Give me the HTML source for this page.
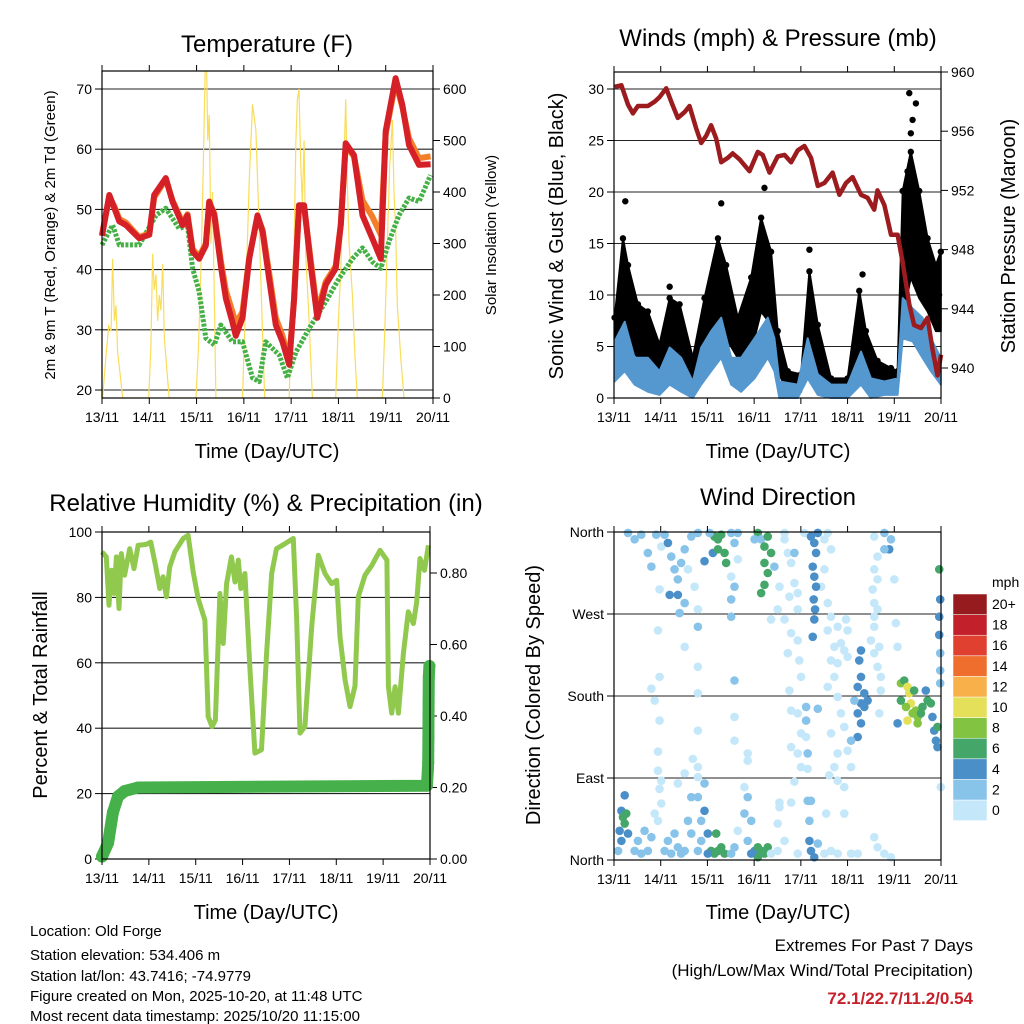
<!DOCTYPE html>
<html><head><meta charset="utf-8">
<style>
html,body{margin:0;padding:0;background:#fff;}
svg{display:block;font-family:"Liberation Sans",sans-serif;}
</style></head>
<body>
<svg id="fig" width="1024" height="1024" viewBox="0 0 1024 1024" xmlns="http://www.w3.org/2000/svg">
<rect width="1024" height="1024" fill="#fff"/>
<g id="g1"></g>
<g id="g2"></g>
<g id="g3"></g>
<g id="g4"></g>
<text x="267" y="52" font-size="24" text-anchor="middle">Temperature (F)</text>
<text x="778" y="46" font-size="24" text-anchor="middle">Winds (mph) &amp; Pressure (mb)</text>
<text x="266" y="511" font-size="24" text-anchor="middle">Relative Humidity (%) &amp; Precipitation (in)</text>
<text x="778" y="505" font-size="24" text-anchor="middle">Wind Direction</text>
<text x="267" y="458" font-size="20" text-anchor="middle">Time (Day/UTC)</text>
<text x="778" y="458" font-size="20" text-anchor="middle">Time (Day/UTC)</text>
<text x="266" y="919" font-size="20" text-anchor="middle">Time (Day/UTC)</text>
<text x="778" y="919" font-size="20" text-anchor="middle">Time (Day/UTC)</text>
<text transform="translate(55,235) rotate(-90)" font-size="15" text-anchor="middle">2m &amp; 9m T (Red, Orange) &amp; 2m Td (Green)</text>
<text transform="translate(496,235) rotate(-90)" font-size="15" text-anchor="middle">Solar Insolation (Yellow)</text>
<text transform="translate(563,236) rotate(-90)" font-size="20" text-anchor="middle">Sonic Wind &amp; Gust (Blue, Black)</text>
<text transform="translate(1015,236) rotate(-90)" font-size="20" text-anchor="middle">Station Pressure (Maroon)</text>
<text transform="translate(47,695) rotate(-90)" font-size="20" text-anchor="middle">Percent &amp; Total Rainfall</text>
<text transform="translate(540,695) rotate(-90)" font-size="20" text-anchor="middle">Direction (Colored By Speed)</text>
<g font-size="15">
<text x="30" y="936">Location: Old Forge</text>
<text x="30" y="960">Station elevation: 534.406 m</text>
<text x="30" y="981">Station lat/lon: 43.7416; -74.9779</text>
<text x="30" y="1001">Figure created on Mon, 2025-10-20, at 11:48 UTC</text>
<text x="30" y="1021">Most recent data timestamp: 2025/10/20 11:15:00</text>
</g>
<g text-anchor="end">
<text x="973" y="951" font-size="17">Extremes For Past 7 Days</text>
<text x="973" y="976" font-size="17">(High/Low/Max Wind/Total Precipitation)</text>
<text x="973" y="1004" font-size="17" font-weight="bold" fill="#c8202a">72.1/22.7/11.2/0.54</text>
</g>
<g id="cbar"></g>
<text x="992" y="587" font-size="14">mph</text>
</svg>
<script>
// ---------- data ----------
const dayLabels = ["13/11","14/11","15/11","16/11","17/11","18/11","19/11","20/11"];
const tempTicks = [20,30,40,50,60,70];
const solarTicks = [0,100,200,300,400,500,600];
const windTicks = [0,5,10,15,20,25,30];
const presTicks = [940,944,948,952,956,960];
const rhTicks = [0,20,40,60,80,100];
const precTicks = [0,0.2,0.4,0.6,0.8];
const dirTicks = [0,90,180,270,360];
const dirNames = ["North","East","South","West","North"];
const speedBins = ["0","2","4","6","8","10","12","14","16","18","20+"];
const speedColors = ["#c4e8f9","#88c3ea","#4b8fc9","#45a66a","#82c341","#e5e05a","#f7b04a","#ef6e2d","#e0402f","#c2202a","#951b1e"];

const tHours = [0,3.7,6.3,8.8,12.2,15.5,18.9,24,26.5,32.4,35.8,40.9,43.4,46,49.3,52.7,54.4,57,60.3,62.9,66.2,67.9,71.3,74.7,78.9,81.5,84.8,88.2,91.6,95,97.5,100,102.6,106,109.3,113.6,118.6,121.2,123.7,127.9,132.2,137.2,141.5,144,149,152.4,155.8,160.9,166.8];
const tRed = [45.6,52.4,50.2,48,47.4,46.3,45.2,45.8,52.4,55.2,51.3,47.4,49,43,41.8,44,51.3,49,40.7,35.2,31.3,29,32,41.8,49,46.3,38.5,30.8,28,24.2,35.2,50.7,50.7,40.7,32,37.5,40.2,47.4,61,59,49,45.2,41.8,63,71.8,67.4,60.7,57.4,57.5];
const tOrange = [45.8,52,50.5,48.4,47.8,46.6,45.4,46,52,55,51.5,47.8,49.2,43.4,42.2,44.3,51,49.4,41.5,36.5,33,31,33,42,48.8,46.6,39.5,32,29,25,35,50.3,50.4,41.5,33,38,40.6,47.6,60.5,58.8,51.5,48.8,45.8,62.5,71.2,67,61.8,58.5,58.8];
const tdHours = [0,5.4,8.8,18.9,27.4,32.4,39.2,43.4,46,49.3,52.7,57,60.3,66.2,71.3,76.4,79.8,83.1,90,94.1,98.4,105.1,113.6,120.3,127.1,132.2,137.2,141.5,145.7,150.7,155.8,160.9,166.8];
const tdVals = [44.1,47.4,44.1,44.1,49,50.2,46.8,47.4,40.2,36.4,28.6,27.5,30.8,28,28,22,21.4,28,25.8,22,26.3,30.2,34.7,38.5,41.8,43.6,41.3,40.2,44.7,49,51.9,51.3,55.7];
const solarHours = [0.3,2,3.4,4.6,5.4,6.3,7.1,7.9,9.1,10.5,23.7,24.8,25.7,26.5,27.4,28.2,29.1,29.9,30.8,31.6,32.4,34.1,47.7,49,50.2,51.4,52.4,53.1,53.7,54.4,55.3,56.1,57,57.8,71.3,73,74.7,76.4,78.1,79.8,81.5,82.6,95,96.3,97.5,98.4,99.2,100,100.9,101.7,102.6,103.4,105.1,106.8,118.6,120,121.2,122.4,123.7,124.5,125.4,127.1,128.4,129.6,142.3,143.7,144.8,146,147.4,148.2,149,149.9,151.6,153.3];
const solarVals = [0,80,140,130,270,150,180,90,50,0,0,100,280,210,240,150,200,170,260,120,80,0,0,100,250,450,640,640,500,550,300,400,200,0,0,200,420,570,520,330,120,0,0,200,300,500,580,600,450,380,500,280,150,0,0,150,250,400,580,420,300,200,80,0,0,150,300,450,540,400,330,180,80,0];

const presHours = [0.3,3.8,7.2,9.7,12.3,17.4,20.9,23.4,26.8,29.4,32.8,36.3,38.8,42.2,44.8,47.4,49.9,52.5,55.1,58.5,61,64.5,69.6,73.9,76.4,79.9,84.1,87.6,91,94.4,97.8,101.2,104.7,108.1,112.3,115.8,119.2,122.6,126.9,130.3,133.7,135.4,138.9,142.3,145.7,148.2,151.7,154.2,157.7,161.1,163.6,166.2,168];
const presVals = [959,959.1,957.8,957.2,957.7,957.7,958,958.3,958.9,958,956.9,957.3,957.7,956.2,955.2,955.7,956.4,955.5,953.9,954.2,954.5,954.1,953.3,954.6,954.4,953.2,954.3,954.4,953.9,954.7,955,954.2,952.3,952.5,953.2,951.7,952.5,952.9,951.7,951.5,950.7,952,951,949,949,947.2,944.3,942.9,942.7,943.4,941.3,939.5,940.9];
const windHours = [0.3,5.5,10.6,17.4,23.4,28.6,34.5,40.5,44.8,49.9,55.1,60.2,65.3,72.2,79,82.4,85,94.4,99.5,104.7,111.5,120,126.9,132,138.9,145.7,148.3,153.4,158.5,162.8,167.9];
const windHi = [5.5,7.4,3.9,3.9,2.6,4.9,3.9,1.6,4.9,6.5,7.8,3.9,3.9,5.8,7.8,5.8,1.6,1.3,5.8,2.3,1.3,1.3,4.5,1.9,1.6,1.9,9.7,8.7,7.8,5.8,3.9];
const windLo = [1.6,2.6,1.3,0.6,0.3,1.3,0.6,0,1.3,2.6,3.9,1.3,0.6,1.9,3.9,2.6,0,0,1.9,0.3,0,0,1.3,0,0.3,0.3,5.8,5.5,3.9,2.6,1.3];
const gustHours = [0.3,4.6,7.2,12.3,17.4,23.4,28.6,33.7,40.5,46.5,53.4,57.6,63.6,70.5,75.6,80.7,84.1,89.3,96.1,100.4,104.7,111.5,120,126,129.4,135.4,142.3,145.7,148.3,152.5,156.8,161.1,165.4,167.9];
const gustHi = [7.8,15.5,12.9,9.1,8.4,5.2,9.7,9.1,3.9,9.7,15.5,12.9,7.8,11.7,17.5,14.2,6.5,2.6,2.3,12.3,7.1,1.9,1.9,10.4,6.5,3.6,2.9,2.6,20.1,23.9,20.1,15.5,12.9,14.2];
const gustLo = [3.9,6.5,5.2,3.9,3.2,1.9,3.9,3.2,1.3,3.9,7.8,5.8,3.9,4.5,8.4,7.1,2.6,0.6,0.6,4.5,2.6,0.6,0.6,3.9,2.6,1.3,1.3,1.3,7.8,11.7,9.7,8.4,6.5,6.5];
const gustPeakHours = [5.8,77.3,55.1,151.7,155.1,100.4,127.7,28.6,153.4,152.5,150.8,167];
const gustPeakVals = [19.1,20.4,18.9,29.6,28.6,14.4,12,10.8,27,25.7,22,10];

const rhHours = [0,2.2,3.6,4.8,6.2,7.4,8.7,9.9,11.6,14.2,16.4,18.5,22.7,25,27.4,29.6,31.3,33,34.7,37.3,41.6,44.1,46.7,49.2,52.7,54.4,56.4,58.1,60.4,62.1,63.8,66.3,68.1,69.8,71.1,73.2,75.8,78.3,81.7,84.3,86.9,89.4,93.7,98,99.7,101.4,103.9,107.4,110.8,114.2,117.6,120.2,121.9,124.5,127,129.6,131.3,134.7,138.2,142.4,145.9,146.7,148.4,150.1,151.8,154.4,156.9,159.5,161.2,162.9,165.2,167.2];
const rhVals = [93.9,92.4,77.6,88.3,81.2,92.4,76.6,93.4,86.8,94.9,88.8,95.9,96.2,96.9,89.8,82.7,86.3,80.2,89.3,93.9,98,99,87.8,79.7,73,43.5,40.5,42.5,81.2,65.9,84.2,92.4,84.7,91.4,82.7,87.3,57.8,32.4,33.4,62.9,87.3,94.9,96.4,98,73,38.5,40.5,71,92.9,87.3,84.2,85.2,68,54.7,46.6,52.9,80.2,86.8,89.8,94.4,91.4,52.7,44.6,52.7,44.6,62.9,75.6,72,78.6,91.9,88.3,95.9];
const precHours = [0,3.1,5.6,8.2,11.6,18.5,166.4,166.9,167.1,167.2,167.3,167.4,167.7];
const precVals = [0.007,0.045,0.13,0.175,0.19,0.2,0.205,0.25,0.27,0.34,0.44,0.51,0.54];

// wind direction observations: [hour, degrees, mph]
const dirObs = [
[7.2,359,2],[10.6,352,2],[14,357,3],[17.4,337,2],[19.2,322,2],[21.7,357,2],[24.3,344,1],[26,357,2],[27.7,348,4],[29.4,333,2],[31.1,319,2],[32.8,308,2],[34.5,326,3],[36.3,341,2],[38,319,1],[39.7,355,2],[41.4,300,1],[43.1,359,2],[28.6,291,4],[32.8,291,4],[23.4,297,1],[36.3,282,2],[43.1,275,1],[33.7,271,2],[43.1,256,3],[22.6,252,1],[36.3,234,1],[43.1,212,1],[61.9,197,3],[23.4,201,1],[19.2,188,1],[43.1,183,1],[20.9,175,1],[23.4,153,1],[43.1,142,1],[61.9,131,1],[22.6,119,1],[40.5,111,1],[43.1,102,1],[22.6,98,1],[36.3,95,1],[23.4,78,1],[32.8,84,1],[43.1,91,1],[46.5,84,2],
[51.6,355,6],[53.4,352,7],[55.1,357,6],[56.8,337,6],[57.6,326,6],[50.8,337,4],[53.4,341,6],[46.5,328,4],[49.1,359,3],[60.2,359,3],[61.9,348,2],[63.6,330,1],[60.2,311,1],[61.9,300,2],[60.2,286,2],[60.2,267,2],[63.6,359,2],
[73.9,359,6],[75.6,352,3],[77.3,344,6],[79,355,7],[80.7,337,6],[77.3,326,6],[79,315,6],[75.6,293,6],[77.3,302,6],[72.2,352,3],[82.4,322,3],[85,300,1],[87.6,352,1],[89.3,337,1],[91,326,1],[92.7,304,1],[94.4,293,1],[90.1,289,1],[84.1,275,1],[94.4,275,1],[87.6,264,1],[80.7,264,1],[92.7,337,2],[87.6,359,1],[97.8,359,1],[104.7,359,1],[108.1,352,1],[109.8,359,1],[111.5,341,1],[108.1,319,1],[106.4,300,1],[109.8,282,1],
[101.2,355,4],[102.9,348,4],[103.8,337,4],[102.1,322,4],[102.9,311,4],[103.8,300,4],[102.6,286,4],[103.3,275,4],[102.9,264,4],[102.1,245,4],[104.7,359,4],
[91,249,1],[94.4,241,1],[89.3,227,1],[95.2,219,1],[96.1,201,1],[90.1,186,1],[91,164,1],[94.4,161,1],[98.7,168,3],[98.7,153,3],[104.7,166,3],[96.1,139,1],[98.7,135,1],[91,124,1],[94.4,117,1],[99.5,117,3],[96.1,102,1],[99.5,100,1],[92.7,86,1],[101.2,65,2],[85,63,1],[91,63,1],[85,58,1],[84.1,40,1],[68.7,117,1],[68.7,109,1],[67,80,1],[61.9,157,1],[111.5,267,1],[114.9,256,1],[119.2,264,1],[120,252,1],[109.8,252,1],
[113.2,234,1],[116.6,238,1],[118.3,230,1],[120,223,1],[111.5,219,1],[114.9,216,1],[126.9,230,4],[126,219,4],[126.9,201,4],[125.2,190,4],[128.6,183,4],[126.9,172,4],[125.2,161,4],[128.6,168,4],[123.5,175,3],[130.3,175,4],[126.9,150,4],[125.2,135,4],[121.8,131,2],[118.3,146,1],[116.6,161,1],[114.9,179,1],[113.2,201,1],[109.8,190,1],[111.5,139,1],[114.9,117,1],[113.2,102,1],[110.6,93,1],[118.3,80,1],[114.9,87,1],[121.8,102,1],[120,120,1],[133.7,227,1],[135.4,212,1],[137.1,201,1],[137.1,186,1],[136.3,161,1],[132,241,1],
[133.7,355,1],[138.9,359,2],[142.3,352,2],[141.4,341,4],[138.9,341,3],[135.4,333,1],[133.7,319,1],[135.4,308,1],[132.9,297,1],[133.7,282,1],[135.4,275,1],[133.7,267,1],[133.7,256,1],[144,308,1],[144.8,260,1],[145.7,234,1],[136.3,234,1],
[147.4,194,8],[149.1,197,6],[150.8,190,10],[151.7,183,10],[152.5,172,10],[153.4,161,8],[150.8,153,10],[150,168,9],[155.1,164,8],[156,157,8],[156,150,8],[158.5,168,6],[161.1,175,6],[160.2,186,4],[162.8,172,6],[163.6,157,4],[164.5,142,4],[165.4,131,4],[166.2,124,4],[166.2,146,6],[145.7,150,4],[147.4,175,6],[154.2,186,7],[157.7,161,7],
[167.1,319,6],[167.6,286,4],[167.1,267,4],[167.1,247,4],[167.6,227,3],[167.6,208,2],[167.6,194,3],[167.9,80,1],
[3.8,54,4],[4.6,47,6],[5.5,40,6],[6.3,51,6],[2.9,32,4],[3.8,21,4],[5.5,71,4],[2.1,10,2],[7.2,29,4],[10.6,10,2],[12.3,21,2],[14,7,2],[17.4,10,2],[15.7,32,2],[19.2,25,2],[20.9,51,1],[22.6,43,1],[26,10,2],[27.7,21,3],[29.4,7,2],[31.1,29,2],[32.8,14,2],[34.5,7,2],[38,43,2],[39.7,29,3],[36.3,10,2],[24.3,62,1],[24.3,87,1],[32.8,84,1],[39.7,69,2],
[43.1,69,3],[44.8,43,3],[46.5,54,4],[48.2,29,4],[49.9,10,6],[51.6,7,6],[53.4,10,6],[55.1,14,6],[56.8,7,6],[52.5,29,6],[48.2,7,4],[43.1,10,2],[44.8,21,3],[60.2,7,2],[61.9,14,2],[63.6,32,1],[67,51,2],[68.7,69,2],[70.5,43,3],[68.7,21,3],[72.2,10,4],[73.9,14,6],[75.6,10,6],[77.3,7,7],[79,14,6],[73.9,3,6],[70.5,7,4],
[80.7,7,1],[84.1,10,1],[87.6,21,1],[94.4,7,1],[99.5,65,2],[100.4,43,3],[100.4,21,4],[101.2,10,4],[102.9,3,4],[104.7,18,2],[108.1,7,1],[111.5,10,1],[114.9,7,1],[118.3,51,1],[121.8,7,1],[125.2,7,1],[133.7,25,1],[135.4,14,1],[138.9,7,1],[142.3,3,1],[109,51,1]
];

// ---------- helpers ----------
const NS = "http://www.w3.org/2000/svg";
function mk(parent, tag, attrs){
  const e = document.createElementNS(NS, tag);
  for (const k in attrs) e.setAttribute(k, attrs[k]);
  parent.appendChild(e);
  return e;
}
function lin(d0,d1,r0,r1){ return v => r0 + (v-d0)*(r1-r0)/(d1-d0); }
function pts(xs, ys, fx, fy){ return xs.map((h,i)=>fx(h).toFixed(1)+","+fy(ys[i]).toFixed(1)).join(" "); }

function frame(g, box, name){
  const fx = lin(0,168,box.x0,box.x1);
  dayLabels.forEach((lab,i)=>{
    const x = fx(i*24);
    const t1 = mk(g,"line",{x1:x,x2:x,y1:box.y1,y2:box.y1+6,stroke:"#000","stroke-width":1});
    
    
    const t2 = mk(g,"line",{x1:x,x2:x,y1:box.y0,y2:box.y0-6,stroke:"#000","stroke-width":1});
    
    
    const tx = mk(g,"text",{x:x,y:box.y1+24,"font-size":14,"text-anchor":"middle"});
    tx.textContent = lab;
    
    
  });
  const r = mk(g,"rect",{x:box.x0,y:box.y0,width:box.x1-box.x0,height:box.y1-box.y0,fill:"none",stroke:"#000","stroke-width":1.2});
  
  
}
function yAxis(g, box, ticks, fy, side, fmt, grid){
  ticks.forEach(v=>{
    const y = fy(v);
    if (grid){
      const gl = mk(g,"line",{x1:box.x0,x2:box.x1,y1:y,y2:y,stroke:"#222","stroke-width":1.1});
      
      
    }
    const x = side==="left"?box.x0:box.x1;
    const d = side==="left"?-7:7;
    const tk = mk(g,"line",{x1:x,x2:x+d,y1:y,y2:y,stroke:"#000","stroke-width":1});
    
    
    const tx = mk(g,"text",{x:x+(side==="left"?-10:10),y:y+5,"font-size":14,"text-anchor":side==="left"?"end":"start"});
    tx.textContent = fmt(v);
    
    
  });
}

// ---------- panel 1: temperature ----------
(function(){
  const g = document.getElementById("g1");
  const box = {x0:102,x1:433,y0:71,y1:398};
  const fx = lin(0,168,box.x0,box.x1);
  const fy = lin(20,70,390,89);
  const fs = lin(0,600,398,89);
  yAxis(g, box, tempTicks, fy, "left", v=>String(v), true);
  yAxis(g, box, solarTicks, fs, "right", v=>String(v), false);
  const clip = mk(g,"clipPath",{id:"c1"});
  mk(clip,"rect",{x:box.x0,y:box.y0,width:box.x1-box.x0,height:box.y1-box.y0});
  const sol = mk(g,"polyline",{points:pts(solarHours,solarVals,fx,fs),fill:"none",stroke:"#f9dd5a","stroke-width":1.2,"clip-path":"url(#c1)"});
  
  
  const td = mk(g,"polyline",{points:pts(tdHours,tdVals,fx,fy),fill:"none",stroke:"#45b045","stroke-width":5,"stroke-dasharray":"3 1.5","stroke-linejoin":"round"});
  
  
  const or = mk(g,"polyline",{points:pts(tHours,tOrange,fx,fy),fill:"none",stroke:"#f47f2a","stroke-width":6,"stroke-linejoin":"round"});
  
  
  const rd = mk(g,"polyline",{points:pts(tHours,tRed,fx,fy),fill:"none",stroke:"#d62027","stroke-width":6,"stroke-linejoin":"round"});
  
  
  frame(g, box, "temperature");
})();

// ---------- panel 2: winds ----------
(function(){
  const g = document.getElementById("g2");
  const box = {x0:614,x1:941,y0:72,y1:398};
  const fx = lin(0,168,box.x0,box.x1);
  const fw = lin(0,30,398,89);
  const fp = lin(940,960,368,72);
  yAxis(g, box, windTicks, fw, "left", v=>String(v), true);
  yAxis(g, box, presTicks, fp, "right", v=>String(v), false);
  const gp = gustHours.map((h,i)=>fx(h).toFixed(1)+","+fw(gustHi[i]).toFixed(1));
  const gl = gustHours.map((h,i)=>fx(h).toFixed(1)+","+fw(gustLo[i]).toFixed(1)).reverse();
  const ga = mk(g,"polygon",{points:gp.concat(gl).join(" "),fill:"#000",stroke:"#000","stroke-width":2,"stroke-linejoin":"round"});
  
  
  gustHours.forEach((h,i)=>{
    const c = mk(g,"circle",{cx:fx(h),cy:fw(gustHi[i]),r:3.2,fill:"#000"});
    
    
  });
  gustPeakHours.forEach((h,i)=>{
    const c = mk(g,"circle",{cx:fx(h),cy:fw(gustPeakVals[i]),r:3.2,fill:"#000"});
    
    
  });
  const bp = windHours.map((h,i)=>fx(h).toFixed(1)+","+fw(windHi[i]).toFixed(1));
  const bl = windHours.map((h,i)=>fx(h).toFixed(1)+","+fw(windLo[i]).toFixed(1)).reverse();
  const wa = mk(g,"polygon",{points:bp.concat(bl).join(" "),fill:"#5598d0",stroke:"#5598d0","stroke-width":2,"stroke-linejoin":"round"});
  
  
  const pl = mk(g,"polyline",{points:pts(presHours,presVals,fx,fp),fill:"none",stroke:"#9b1b1e","stroke-width":4.5,"stroke-linejoin":"round"});
  
  
  frame(g, box, "winds");
})();

// ---------- panel 3: humidity ----------
(function(){
  const g = document.getElementById("g3");
  const box = {x0:102,x1:430,y0:532,y1:859};
  const fx = lin(0,168,box.x0,box.x1);
  const fr = lin(0,100,859,532);
  const fp = lin(0,0.8,859,573);
  yAxis(g, box, rhTicks, fr, "left", v=>String(v), true);
  yAxis(g, box, precTicks, fp, "right", v=>v.toFixed(2), false);
  const rl = mk(g,"polyline",{points:pts(rhHours,rhVals,fx,fr),fill:"none",stroke:"#90c94e","stroke-width":5,"stroke-linejoin":"round"});
  
  
  const pr = mk(g,"polyline",{points:pts(precHours,precVals,fx,fp),fill:"none",stroke:"#46b04a","stroke-width":12,"stroke-linejoin":"round","stroke-linecap":"round"});
  
  
  precHours.forEach((h,i)=>{
    const c = mk(g,"circle",{cx:fx(h),cy:fp(precVals[i]),r:6,fill:"#46b04a"});
    
    
  });
  frame(g, box, "humidity");
})();

// ---------- panel 4: wind direction ----------
(function(){
  const g = document.getElementById("g4");
  const box = {x0:614,x1:941,y0:532,y1:860};
  const fx = lin(0,168,box.x0,box.x1);
  const fd = lin(0,360,860,532);
  yAxis(g, box, dirTicks, fd, "left", v=>dirNames[dirTicks.indexOf(v)], true);
  function col(s){ const i = Math.min(10, Math.floor(s/2)); return speedColors[i]; }
  dirObs.forEach(o=>{
    const c = mk(g,"circle",{cx:fx(o[0]),cy:fd(o[1]),r:4.3,fill:col(o[2])});
    
    
  });
  frame(g, box, "wind-direction");
  const cb = document.getElementById("cbar");
  speedBins.forEach((lab,i)=>{
    const y = 594 + (10-i)*20.6;
    const r = mk(cb,"rect",{x:953,y:y,width:34,height:20.6,fill:speedColors[i],stroke:"#fff","stroke-width":0.5});
    
    
    const t = mk(cb,"text",{x:992,y:y+15,"font-size":14});
    t.textContent = lab;
    
    
  });
})();
</script>
</body></html>
